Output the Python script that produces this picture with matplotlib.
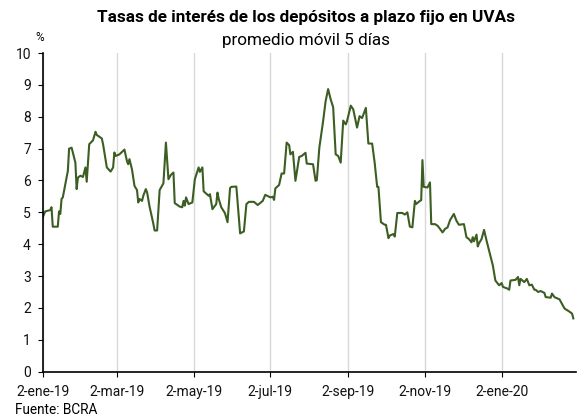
# -*- coding: utf-8 -*-
import matplotlib
matplotlib.use("Agg")
import matplotlib.pyplot as plt
import numpy as np
import pandas as pd

plt.rcParams["font.family"] = ["Roboto", "DejaVu Sans"]

# datos: dias desde 2-ene-19 y tasa (%)
inicio = pd.Timestamp("2019-01-02")
dias = [0, 2, 6, 7, 8, 12, 13, 14, 15, 16, 20, 21, 23, 26, 27, 28, 30, 32, 34, 35,
        37, 40, 42, 43, 47, 48, 51, 54, 56, 57, 58, 61, 65, 67, 68, 69, 71, 73, 75, 76,
        77, 79, 80, 82, 83, 85, 88, 89, 91, 93, 96, 98, 100, 102, 104, 105, 109, 111, 112, 113,
        114, 116, 119, 121, 124, 125, 127, 128, 132, 133, 135, 138, 139, 140, 142, 145, 147, 149, 150, 154,
        157, 160, 162, 164, 168, 171, 175, 177, 181, 183, 184, 185, 188, 190, 192, 194, 196, 197, 199, 201,
        204, 206, 209, 210, 215, 217, 218, 220, 223, 225, 227, 229, 231, 233, 235, 237, 239, 241, 242, 245,
        247, 250, 252, 254, 257, 259, 262, 264, 266, 267, 269, 272, 273, 275, 276, 279, 280, 282, 286, 288,
        290, 292, 294, 296, 297, 300, 301, 302, 303, 306, 308, 309, 312, 314, 316, 318, 320, 322, 324, 327,
        329, 331, 335, 337, 339, 341, 342, 343, 345, 346, 347, 349, 351, 353, 358, 360, 363, 365, 366, 370,
        371, 372, 376, 378, 379, 380, 383, 385, 387, 389, 391, 392, 394, 396, 399, 400, 404, 405, 407, 408,
        411, 415, 419, 421, 422]
tasa = [4.84, 5.03, 5.07, 5.16, 4.55, 4.55, 5.03, 4.95, 5.42, 5.47, 6.30, 7.00, 7.03, 6.56, 5.73, 6.09, 6.15, 6.11, 6.41, 5.96,
        7.14, 7.26, 7.53, 7.43, 7.32, 7.14, 6.41, 6.28, 6.41, 6.88, 6.77, 6.82, 6.97, 6.61, 6.51, 6.67, 6.35, 5.83, 5.70, 5.31,
        5.42, 5.36, 5.52, 5.73, 5.63, 5.18, 4.64, 4.43, 4.43, 5.70, 5.91, 7.19, 6.04, 6.18, 6.25, 5.29, 5.18, 5.16, 5.36, 5.21,
        5.47, 5.26, 5.31, 6.04, 6.41, 6.27, 6.41, 5.66, 5.52, 5.57, 5.10, 5.26, 5.62, 5.42, 5.16, 4.97, 4.69, 5.76, 5.80, 5.81,
        4.34, 4.40, 5.26, 5.33, 5.33, 5.23, 5.36, 5.55, 5.47, 5.49, 5.39, 5.75, 5.86, 6.22, 6.22, 7.19, 7.11, 6.82, 6.90, 5.99,
        6.74, 6.77, 6.87, 6.53, 6.51, 5.99, 6.01, 7.03, 7.86, 8.49, 8.87, 8.55, 8.30, 6.82, 6.77, 6.56, 7.88, 7.76, 7.86, 8.35,
        8.23, 7.66, 8.02, 7.96, 8.28, 7.16, 7.16, 6.56, 5.80, 5.80, 4.69, 4.61, 4.61, 4.19, 4.27, 4.32, 4.24, 4.98, 4.98, 4.93,
        5.00, 4.55, 4.53, 5.36, 5.26, 5.36, 5.38, 6.64, 5.80, 5.78, 5.94, 4.63, 4.63, 4.58, 4.48, 4.37, 4.48, 4.53, 4.76, 4.95,
        4.74, 4.61, 4.63, 4.22, 4.16, 4.06, 4.22, 4.09, 4.30, 3.93, 4.03, 4.16, 4.45, 4.11, 3.33, 2.86, 2.71, 2.78, 2.66, 2.60,
        2.57, 2.86, 2.88, 2.97, 2.71, 2.91, 2.81, 2.91, 2.71, 2.73, 2.57, 2.57, 2.50, 2.53, 2.47, 2.34, 2.32, 2.45, 2.34, 2.32,
        2.27, 1.98, 1.88, 1.82, 1.67]

ticks_x = ["2019-01-02", "2019-03-02", "2019-05-02", "2019-07-02",
           "2019-09-02", "2019-11-02", "2020-01-02"]
etiquetas_x = ["2-ene-19", "2-mar-19", "2-may-19", "2-jul-19",
               "2-sep-19", "2-nov-19", "2-ene-20"]

fechas = inicio + pd.to_timedelta(dias, unit="D")

fig = plt.figure(figsize=(5.77, 4.18), dpi=100)
ax = fig.add_axes([0.074, 0.111, 0.924, 0.762])

ax.plot(fechas, tasa, color="#3c5e22", linewidth=1.5)

# ejes
ax.set_ylim(0, 10)
ax.set_yticks(range(0, 11))
ax.set_xlim(inicio, inicio + pd.Timedelta(days=424))
ax.set_xticks(pd.to_datetime(ticks_x))
ax.set_xticklabels(etiquetas_x)
ax.grid(axis="x", color="#d9d9d9", linewidth=1)
ax.set_axisbelow(True)
for s in ["top", "right"]:
    ax.spines[s].set_visible(False)
ax.spines["left"].set_linewidth(1.2)
ax.spines["bottom"].set_linewidth(1.2)
ax.tick_params(axis="both", labelsize=10, length=3.5, color="black", labelcolor="#111111")
ax.tick_params(axis="x", pad=6)
ax.tick_params(axis="y", pad=5)

# textos
fig.text(0.530, 0.957, "Tasas de interés de los depósitos a plazo fijo en UVAs",
         ha="center", va="center", fontsize=12.3, fontweight="bold")
fig.text(0.530, 0.903, "promedio móvil 5 días", ha="center", va="center", fontsize=12.3)
fig.text(0.068, 0.910, "%", ha="center", va="center", fontsize=8.5)
fig.text(0.026, 0.019, "Fuente: BCRA", ha="left", va="center", fontsize=9.8)

fig.savefig("out.png", dpi=100)
